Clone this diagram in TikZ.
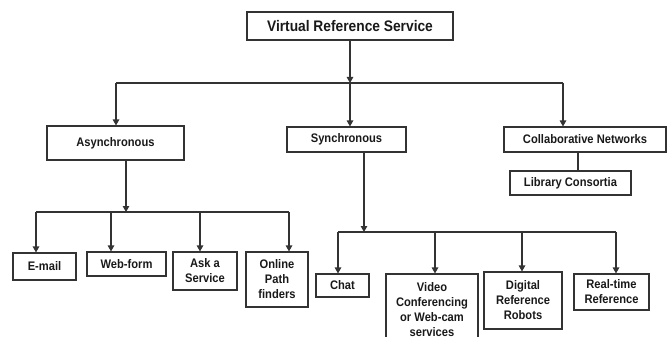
\documentclass[tikz,border=0pt]{standalone}
\usepackage{fontspec}
\setmainfont{Liberation Sans}[FakeStretch=0.9]
\usetikzlibrary{arrows.meta}
\tikzset{
  box/.style={draw=black!80, line width=1.1pt, inner sep=0pt, align=center,
    font=\fontsize{12.4}{15}\selectfont\bfseries, text=black!90},
  conn/.style={draw=black!80, line width=1.2pt},
  arr/.style={conn, -{Triangle[length=6pt,width=6.5pt]}}
}
\begin{document}
\begin{tikzpicture}[x=1pt,y=-1pt]
\useasboundingbox (0,0) rectangle (667,337);
\clip (0,0) rectangle (667,337);
% level 0
\node[box, minimum width=206pt, minimum height=28pt,
  font=\fontsize{15.3}{18}\selectfont\bfseries] (top) at (350,26) {Virtual Reference Service};
% level 1
\node[box, minimum width=137pt, minimum height=34pt] (async) at (115.5,143) {Asynchronous};
\node[box, minimum width=119pt, minimum height=25pt] (sync) at (346.5,139.5) {Synchronous};
\node[box, minimum width=162pt, minimum height=25pt] (collab) at (585,139.5) {Collaborative Networks};
\node[box, minimum width=121pt, minimum height=24pt] (lib) at (570.5,183) {Library Consortia};
% level 2 (asynchronous)
\node[box, minimum width=63pt, minimum height=27pt] (email) at (44.5,266.5) {E-mail};
\node[box, minimum width=79pt, minimum height=24pt] (webform) at (126.5,264) {Web-form};
\node[box, minimum width=64pt, minimum height=38pt] (ask) at (205,271) {Ask a\\Service};
\node[box, minimum width=62pt, minimum height=55pt] (online) at (277,279.5) {Online\\Path\\finders};
% level 2 (synchronous)
\node[box, minimum width=53pt, minimum height=23pt] (chat) at (342.5,285.5) {Chat};
\node[box, minimum width=92pt, minimum height=71pt] (video) at (432,309.5) {Video\\Conferencing\\or Web-cam\\services};
\node[box, minimum width=78pt, minimum height=57pt] (digital) at (523,300.5) {Digital\\Reference\\Robots};
\node[box, minimum width=75pt, minimum height=36pt] (realtime) at (611.5,292) {Real-time\\Reference};
% junctions
\coordinate (j0) at (350,83);
\coordinate (h0l) at (116,83);
\coordinate (h0r) at (563,83);
\coordinate (a0) at (126,160);
\coordinate (ja) at (126,212);
\coordinate (hal) at (36,212);
\coordinate (ha2) at (111,212);
\coordinate (ha3) at (200,212);
\coordinate (har) at (289,212);
\coordinate (s0) at (364,152);
\coordinate (js) at (364,232);
\coordinate (hsl) at (338,232);
\coordinate (hs2) at (435,232);
\coordinate (hs3) at (522,232);
\coordinate (hsr) at (616,232);
\coordinate (c0) at (578,152);
% connectors level 0 -> 1
\draw[arr] (top.south) -- (j0);
\draw[conn] (h0l) -- (h0r);
\draw[arr] (h0l) -- (h0l |- async.north);
\draw[arr] (j0) -- (j0 |- sync.north);
\draw[arr] (h0r) -- (h0r |- collab.north);
\draw[conn] (c0) -- (c0 |- lib.north);
% asynchronous branch
\draw[arr] (a0) -- (ja);
\draw[conn] (hal) -- (har);
\draw[arr] (hal) -- (hal |- email.north);
\draw[arr] (ha2) -- (ha2 |- webform.north);
\draw[arr] (ha3) -- (ha3 |- ask.north);
\draw[arr] (har) -- (har |- online.north);
% synchronous branch
\draw[arr] (s0) -- (js);
\draw[conn] (hsl) -- (hsr);
\draw[arr] (hsl) -- (hsl |- chat.north);
\draw[arr] (hs2) -- (hs2 |- video.north);
\draw[arr] (hs3) -- (hs3 |- digital.north);
\draw[arr] (hsr) -- (hsr |- realtime.north);
\end{tikzpicture}
\end{document}
